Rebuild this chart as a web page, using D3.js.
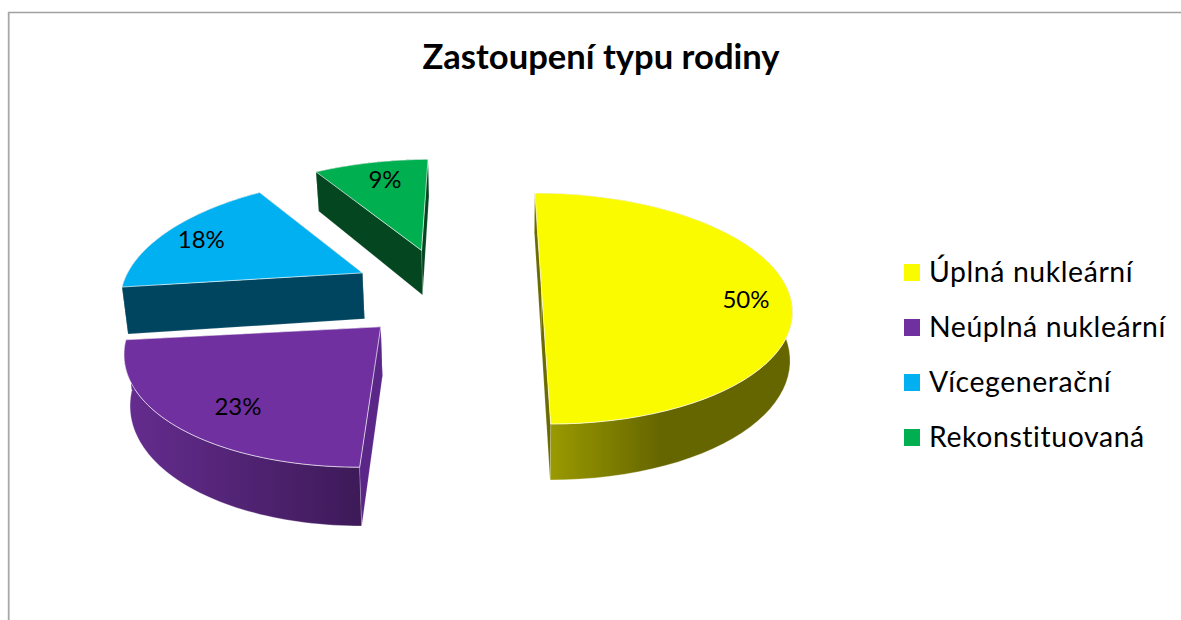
<!DOCTYPE html>
<html>
<head>
<meta charset="utf-8">
<script src="https://cdnjs.cloudflare.com/ajax/libs/d3/7.8.5/d3.min.js"></script>
<style>
html,body{margin:0;padding:0;background:#fff;overflow:hidden}
svg{display:block}
text{font-family:Lato,"Open Sans",sans-serif;fill:#000}
</style>
</head>
<body>
<svg id="chart" width="1181" height="620"></svg>
<script>
// Data
const categories = ["Úplná nukleární", "Neúplná nukleární", "Vícegenerační", "Rekonstituovaná"];
const values = [50, 23, 18, 9];
const percentLabels = ["50%", "23%", "18%", "9%"];
const chartTitle = "Zastoupení typu rodiny";

// Styles
const topColors = ["#FBFB00", "#7030A0", "#00B0F0", "#00B050"];
const wallColors = ["#6A6A00", "#5A2788", "#004560", "#03461F"];
const curveFrom = ["#999900", "#642C8E", "#004560", "#03461F"];
const curveTo = ["#666600", "#3D1A58", "#004560", "#03461F"];
const curveRange = [[552, 660], [130, 362], [120, 365], [315, 430]];

// Perspective camera for the pie plane
const horizonY = -422, vanishX = 493, depth = 6.325, scaleY = 4505, scaleX = 1535, thickness = 298;
const pieCenter = [-0.19, 0], explode = 0.39;
// Per-slice corrections for the lens distortion of the original
const sliceShift = [[0, 0], [0.0078, 0.016], [-0.0085, 0.008], [-0.013, 0]];
const sliceRadiusX = [1.016, 0.98, 0.992, 1.05];
const sliceRadiusY = [1, 0.95, 1.03, 1.05];
const endTurn = [0, 1, -2.2, -0.9];
const labelRadius = [0.833, 0.74, 0.809, 0.814];
const labelNudge = [5.5, -2.6, -1.7, 0.9];

const rad = Math.PI / 180;

function project(X, Y, z) {
  const w = depth - Y;
  let sx = vanishX + scaleX * X / w;
  const sy = horizonY + (scaleY + z * thickness) / w;
  sx += z * (480 - sx) * (sx < 480 ? 0.017 : 0.008);
  return [sx, sy];
}

const svg = d3.select("#chart");
const defs = svg.append("defs");
const pie = d3.pie().sort(null).value(d => d);
const arcs = pie(values);
const line = d3.line();

function apex(d, i) {
  const mid = (d.startAngle + d.endAngle) / 2;
  return [pieCenter[0] + explode * Math.sin(mid) + sliceShift[i][0],
          pieCenter[1] - explode * Math.cos(mid) + sliceShift[i][1]];
}

// Frame
svg.append("line").attr("x1", 8).attr("y1", 12.5).attr("x2", 1181).attr("y2", 12.5).attr("stroke", "#a0a0a0").attr("stroke-width", 1.5);
svg.append("line").attr("x1", 8.7).attr("y1", 12).attr("x2", 8.7).attr("y2", 620).attr("stroke", "#a8a8a8").attr("stroke-width", 1.8);

// Title
svg.append("text").attr("x", 601).attr("y", 69).attr("text-anchor", "middle")
  .attr("font-size", 34.6).attr("font-weight", 700).text(chartTitle);

// Slices, back to front
const slices = svg.append("g");
[3, 2, 0, 1].forEach(i => {
  const d = arcs[i];
  const o = apex(d, i);
  const a0 = d.startAngle, a1 = d.endAngle + endTurn[i] * rad;
  const angles = d3.range(0, 61).map(k => a0 + (a1 - a0) * k / 60);
  const rimPts = angles.map(a => [o[0] + sliceRadiusX[i] * Math.sin(a), o[1] - sliceRadiusY[i] * Math.cos(a)]);

  defs.append("linearGradient").attr("id", "curve" + i).attr("gradientUnits", "userSpaceOnUse")
    .attr("x1", curveRange[i][0]).attr("x2", curveRange[i][1]).attr("y1", 0).attr("y2", 0)
    .call(g => {
      g.append("stop").attr("offset", 0).attr("stop-color", curveFrom[i]);
      g.append("stop").attr("offset", 1).attr("stop-color", curveTo[i]);
    });

  const g = slices.append("g");
  // outer curved wall
  const curve = rimPts.map(p => project(p[0], p[1], 0))
    .concat(rimPts.slice().reverse().map(p => project(p[0], p[1], 1)));
  g.append("path").attr("d", line(curve) + "Z").attr("fill", `url(#curve${i})`)
    .attr("stroke", "#fff").attr("stroke-opacity", 0.45).attr("stroke-width", 0.7);
  // radial walls, the farther one first
  [rimPts[0], rimPts[60]].sort((p, q) => p[1] - q[1]).forEach(p => {
    const wall = [project(o[0], o[1], 0), project(p[0], p[1], 0), project(p[0], p[1], 1), project(o[0], o[1], 1)];
    g.append("path").attr("d", line(wall) + "Z").attr("fill", wallColors[i])
      .attr("stroke", "#fff").attr("stroke-opacity", 0.3).attr("stroke-width", 0.5);
  });
  // top face
  const top = [project(o[0], o[1], 0)].concat(rimPts.map(p => project(p[0], p[1], 0)));
  g.append("path").attr("d", line(top) + "Z").attr("fill", topColors[i])
    .attr("stroke", "#fff").attr("stroke-opacity", 0.7).attr("stroke-width", 0.9).attr("stroke-linejoin", "round");
});

// Percentage labels
arcs.forEach((d, i) => {
  const mid = (d.startAngle + d.endAngle) / 2;
  const o = apex(d, i);
  const a = mid + labelNudge[i] * rad;
  const p = project(o[0] + labelRadius[i] * Math.sin(a), o[1] - labelRadius[i] * Math.cos(a), 0);
  svg.append("text").attr("x", p[0]).attr("y", p[1]).attr("dy", "0.35em")
    .attr("text-anchor", "middle").attr("font-size", 24).text(percentLabels[i]);
});

// Legend
const legendY = d3.scalePoint().domain(categories).range([272.5, 437.5]);
const legend = svg.append("g");
categories.forEach((c, i) => {
  const y = legendY(c);
  legend.append("rect").attr("x", 904).attr("y", y - 8.5).attr("width", 16).attr("height", 17).attr("fill", topColors[i]);
  legend.append("text").attr("x", 929).attr("y", y + 9.5).attr("font-size", 28.4).attr("letter-spacing", 0.6).text(c);
});
</script>
</body>
</html>
